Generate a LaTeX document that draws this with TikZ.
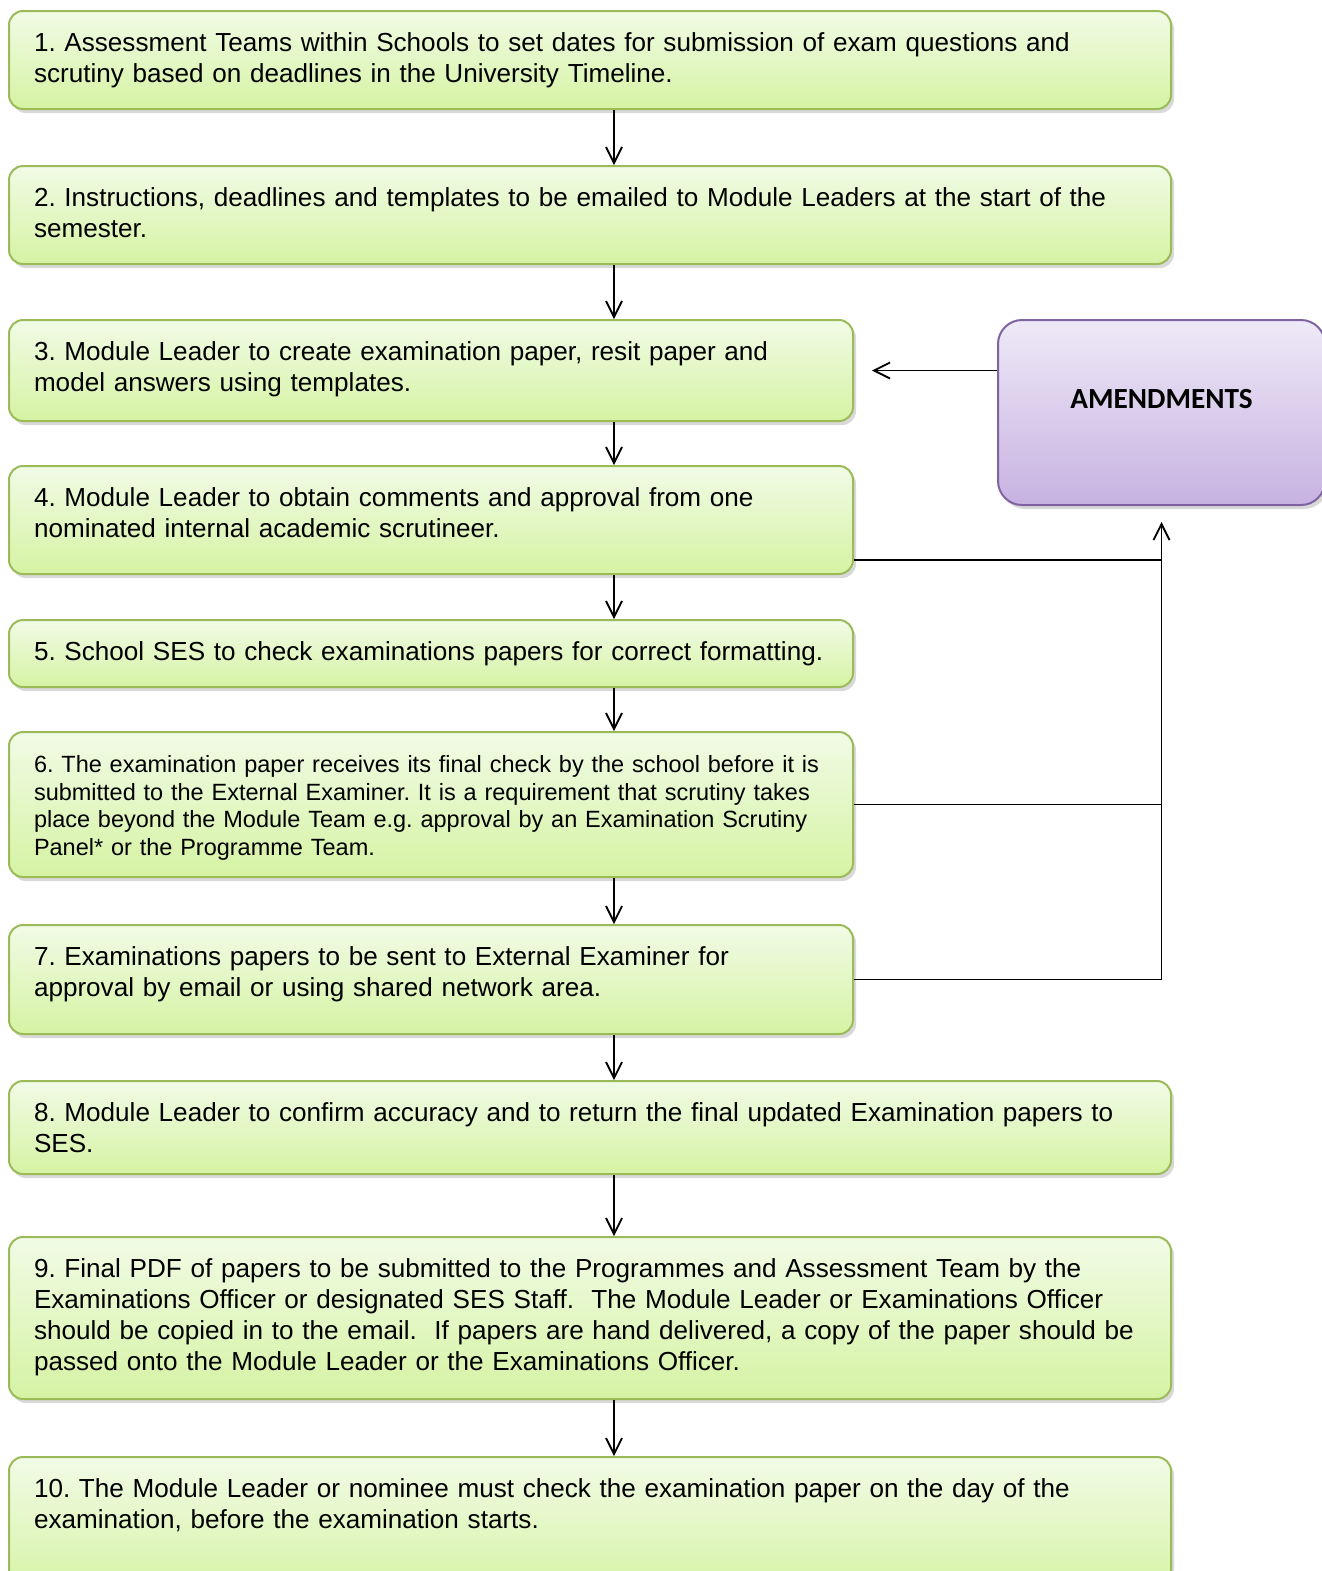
\documentclass[tikz,border=0pt]{standalone}
\usepackage{fontspec}
\setmainfont{Liberation Sans}
\newfontfamily\amendfont{Carlito}
\usetikzlibrary{positioning, shadows, arrows.meta}
\frenchspacing

\definecolor{steptop}{HTML}{F1FBE6}
\definecolor{stepbot}{HTML}{D5F3A3}
\definecolor{stepline}{HTML}{9BBB59}
\definecolor{amendtop}{HTML}{EEE9F7}
\definecolor{amendbot}{HTML}{C7B2E1}
\definecolor{amendline}{HTML}{8064A2}

\newcommand{\stepfont}{\fontsize{13.05pt}{15.5pt}\selectfont}
\newcommand{\smallstepfont}{\fontsize{11.75pt}{13.75pt}\selectfont}
\newcommand{\lines}[1]{\begin{tabular}[t]{@{}l@{}}#1\end{tabular}}

\begin{document}
\begin{tikzpicture}[x=0.5pt, y=-0.5pt, >={Straight Barb[length=8pt, width=8pt]},
	block step/.style={draw=stepline, line width=1pt, rounded corners=7pt,
		top color=steptop, bottom color=stepbot,
		drop shadow={shadow xshift=1.5pt, shadow yshift=-2pt, opacity=0.3},
		anchor=north west, align=left, inner xsep=12.5pt, inner ysep=8pt,
		text height=12.3pt, font=\stepfont},
	block wide/.style={block step, text width=556pt},
	block narrow/.style={block step, text width=397pt},
	block amend/.style={draw=amendline, line width=1pt, rounded corners=12pt,
		top color=amendtop, bottom color=amendbot,
		drop shadow={shadow xshift=1.5pt, shadow yshift=-2pt, opacity=0.3},
		anchor=north west, align=center, text width=143.5pt, inner xsep=10pt,
		inner ysep=8pt, text height=36pt, text depth=40.5pt,
		font=\amendfont\bfseries\fontsize{14.6pt}{16pt}\selectfont},
	flow/.style={line width=0.9pt}]

		\useasboundingbox (0,0) rectangle (1322,1571);

		% Steps
		\node [block wide, text depth=20.7pt] (step-1) at (8,10) {\lines{
			1. Assessment Teams within Schools to set dates for submission of exam questions and\\
			scrutiny based on deadlines in the University Timeline.
		}};
		\node [block wide, text depth=20.7pt] (step-2) at (8,165) {\lines{
			2. Instructions, deadlines and templates to be emailed to Module Leaders at the start of the\\
			semester.
		}};
		\node [block narrow, text depth=22.2pt] (step-3) at (8,319) {\lines{
			3. Module Leader to create examination paper, resit paper and\\
			model answers using templates.
		}};
		\node [block narrow, text depth=25.7pt] (step-4) at (8,465) {\lines{
			4. Module Leader to obtain comments and approval from one\\
			nominated internal academic scrutineer.
		}};
		\node [block narrow, text depth=5.2pt] (step-5) at (8,619) {\lines{
			5. School SES to check examinations papers for correct formatting.
		}};
		\node [block narrow, text depth=44.2pt, font=\smallstepfont] (step-6) at (8,731) {\lines{
			6. The examination paper receives its final check by the school before it is\\
			submitted to the External Examiner. It is a requirement that scrutiny takes\\
			place beyond the Module Team e.g. approval by an Examination Scrutiny\\
			Panel* or the Programme Team.
		}};
		\node [block narrow, text depth=26.2pt] (step-7) at (8,924) {\lines{
			7. Examinations papers to be sent to External Examiner for\\
			approval by email or using shared network area.
		}};
		\node [block wide, text depth=18.2pt] (step-8) at (8,1080) {\lines{
			8. Module Leader to confirm accuracy and to return the final updated Examination papers to\\
			SES.
		}};
		\node [block wide, text depth=52.7pt] (step-9) at (8,1236) {\lines{
			9. Final PDF of papers to be submitted to the Programmes and Assessment Team by the\\
			Examinations Officer or designated SES Staff.\ \ The Module Leader or Examinations Officer\\
			should be copied in to the email.\ \ If papers are hand delivered, a copy of the paper should be\\
			passed onto the Module Leader or the Examinations Officer.
		}};
		\node [block wide, text depth=41.7pt] (step-10) at (8,1456) {\lines{
			10. The Module Leader or nominee must check the examination paper on the day of the\\
			examination, before the examination starts.
		}};

		% Amendments
		\node [block amend] (amend) at (997,319) {AMENDMENTS};

		% Main flow
		\coordinate (spine) at (614,0);
		\foreach \i [count=\j from 2] in {1,...,9}
			\draw [->, flow] (step-\i.south -| spine) -- (step-\j.north -| spine);

		% Feedback to amendments
		\coordinate [above=7.5pt of step-4.south east] (fb-4);
		\draw [flow] (fb-4) -- (fb-4 -| amend.south);
		\draw [flow] (step-6.east) -- (step-6.east -| amend.south);
		\draw [->, flow, shorten >=8pt] (step-7.east) -| (amend.south);
		\draw [->, flow, shorten >=9pt] (amend.west |- step-3.east) -- (step-3.east);

\end{tikzpicture}
\end{document}
